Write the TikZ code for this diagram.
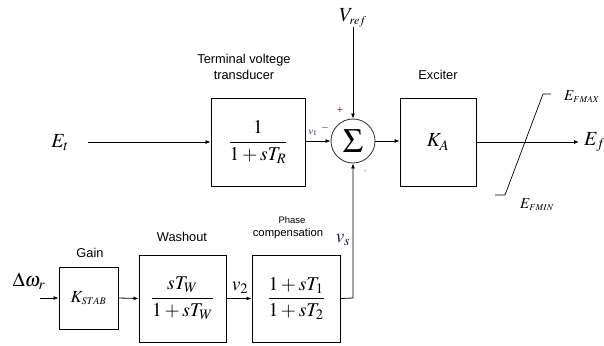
\documentclass[tikz,border=0pt]{standalone}
\usepackage{amsmath}
\usepackage{mathptmx}
\usepackage{fontspec}
\setmainfont{Liberation Serif}
\newfontfamily\arialfont{Liberation Sans}
\usetikzlibrary{arrows.meta}
\definecolor{navyv}{RGB}{20,30,90}
\definecolor{plusc}{RGB}{120,40,120}
\definecolor{orng}{RGB}{220,140,40}
\begin{document}
\begin{tikzpicture}[x=1pt,y=-1pt,
  blk/.style={draw, line width=0.9pt, inner sep=0pt},
  conn/.style={line width=0.8pt, -{Latex[length=5pt,width=4pt]}},
  plain/.style={line width=0.8pt},
  lbl/.style={font=\arialfont\fontsize{12.8}{14}\selectfont, inner sep=0pt},
  mth/.style={font=\fontsize{19.5}{22}\selectfont, inner sep=0pt},
  big/.style={font=\fontsize{20}{22}\selectfont, inner sep=0pt}]
\useasboundingbox (0,0) rectangle (604,345);

% blocks
\node[blk, minimum width=94pt, minimum height=88pt, mth] (TR) at (258,142) {$\dfrac{1}{1+sT_R}$};
\node[draw=black!75, circle, line width=0.9pt, minimum size=44pt, inner sep=0pt, font=\fontsize{34}{36}\selectfont] (S) at (353,141) {$\Sigma$};
\node[blk, minimum width=76pt, minimum height=88pt, big] (EX) at (438,142) {$K_A$};
\node[blk, minimum width=59pt, minimum height=62pt, font=\fontsize{17}{19}\selectfont] (G) at (88.5,298) {$K_{\scriptscriptstyle STAB}$};
\node[blk, minimum width=87pt, minimum height=87pt, mth] (W) at (182.5,298.5) {$\dfrac{sT_W}{1+sT_W}$};
\node[blk, minimum width=88pt, minimum height=87pt, mth] (P) at (296,298.5) {$\dfrac{1+sT_1}{1+sT_2}$};

% external labels
\node[big] (Et) at (60,143) {$E_t$};
\node[big] (Vref) at (353,18) {$V_{\scriptscriptstyle ref}$};
\node[big, anchor=west] (Ef) at (584,142) {$E_f$};
\node[big] (dw) at (29,281) {$\Delta\omega_r$};
\node[font=\fontsize{15}{17}\selectfont, inner sep=0pt] (Emax) at (582,97) {$E_{\scriptscriptstyle FMAX}$};
\node[font=\fontsize{15}{17}\selectfont, inner sep=0pt] (Emin) at (537,205) {$E_{\scriptscriptstyle FMIN}$};
\node[mth] (v2) at (240,288) {$v_2$};
\node[font=\fontsize{19}{22}\selectfont\bfseries, text=navyv, inner sep=0pt] (vs) at (343,240) {$\boldsymbol{v_s}$};
\node[font=\fontsize{10}{11}\selectfont, text=navyv, inner sep=0pt] (v1) at (313,133) {$\boldsymbol{v_1}$};
\node[font=\fontsize{10}{11}\selectfont, inner sep=0pt] (minus) at (325,128) {$-$};
\node[font=\fontsize{11}{12}\selectfont\bfseries, text=plusc, inner sep=0pt] (plus) at (340,110) {+};
\node[font=\fontsize{7}{8}\selectfont, text=orng, inner sep=0pt] (plus2) at (365,172) {+};

% block titles
\node[lbl] (t1) at (244,60) {Terminal voltege};
\node[lbl] (t2) at (244,75) {transducer};
\node[lbl] (t3) at (438,75) {Exciter};
\node[lbl] (t4) at (90,253) {Gain};
\node[lbl] (t5) at (182,237) {Washout};
\node[lbl, font=\arialfont\fontsize{9.5}{10}\selectfont] (t6) at (292,220) {Phase};
\node[lbl, font=\arialfont\fontsize{11.3}{12}\selectfont] (t7) at (288,234) {compensation};

% coordinates
\coordinate (etS) at (88,142);
\coordinate (vrS) at (353,27);
\coordinate (efE) at (579,142);
\coordinate (dwS) at (40,298);
\coordinate (corner) at (353,298);
\coordinate (l1) at (495,195);
\coordinate (l2) at (505,195);
\coordinate (l3) at (543,94);
\coordinate (l4) at (551,94);

% connectors
\draw[conn] (etS) -- (TR.west);
\draw[conn] (TR.east |- S.west) -- (S.west);
\draw[conn] (vrS) -- (S.north);
\draw[conn] (S.east) -- (EX.west |- S.east);
\draw[conn] (EX.east) -- (efE);
\draw[conn] (dwS) -- (G.west);
\draw[conn] (G.east) -- (W.west);
\draw[conn] (W.east) -- (P.west);
\draw[conn] (P.east) -- (corner) -- (S.south);

% limiter
\draw[plain, line width=0.7pt] (l1) -- (l2) -- (l3) -- (l4);
\end{tikzpicture}
\end{document}
